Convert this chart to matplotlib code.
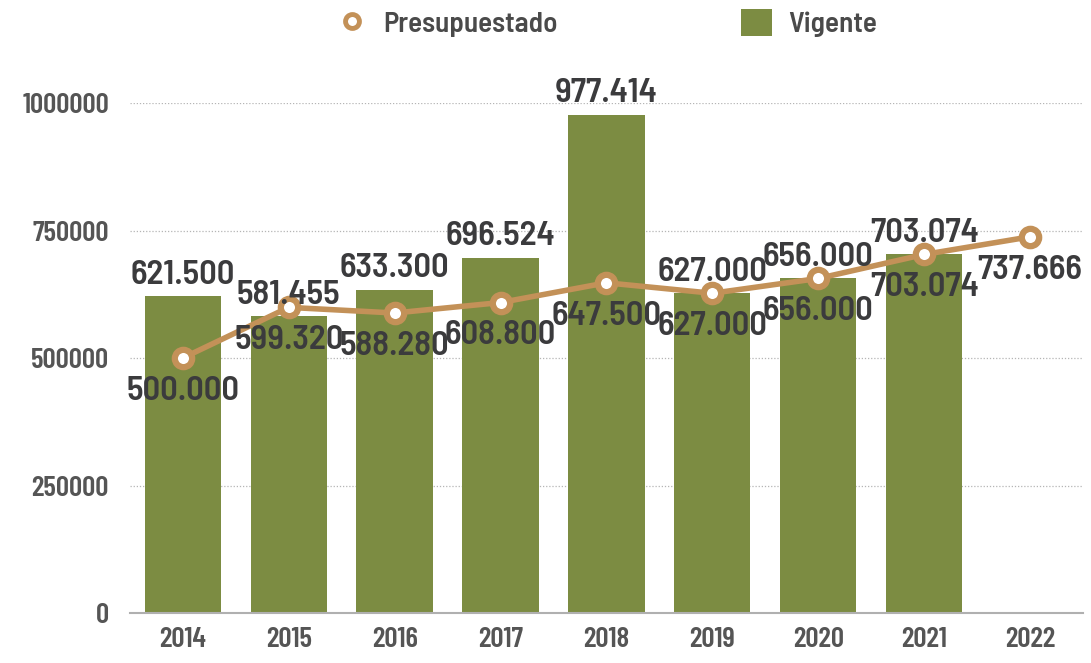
import matplotlib
matplotlib.use("Agg")
import matplotlib.pyplot as plt
from matplotlib.lines import Line2D
from matplotlib.patches import Patch
import numpy as np

years = ["2014", "2015", "2016", "2017", "2018", "2019", "2020", "2021", "2022"]
vigente = [621500, 581455, 633300, 696524, 977414, 627000, 656000, 703074]
presupuestado = [500000, 599320, 588280, 608800, 647500, 627000, 656000, 703074, 737666]
yticks = [0, 250000, 500000, 750000, 1000000]

BAR = "#7c8c42"
LINE = "#c39158"
TXT = "#3b3b3d"
TICK = "#555555"
FONT = ["Barlow Semi Condensed", "DejaVu Sans"]
TICKFONT = ["Barlow Condensed", "DejaVu Sans"]

def fmt(v):
    return f"{v:,}".replace(",", ".")

fig = plt.figure(figsize=(10.91, 6.63), dpi=100)
ax = fig.add_axes([0.119, 0.0754, 0.8737, 0.7692])

x = np.arange(len(years))
bx = x[:len(vigente)]
ax.bar(bx, vigente, width=0.72, color=BAR, zorder=2)
ax.plot(x, presupuestado, color=LINE, lw=4, marker="o", ms=12.5,
        mfc="white", mec=LINE, mew=4.5, zorder=3)

for xi, v in zip(bx, vigente):
    ax.annotate(fmt(v), (xi, v), xytext=(0, 4), textcoords="offset points",
                ha="center", va="bottom", fontsize=25, fontweight=600,
                color=TXT, family=FONT, zorder=5, annotation_clip=False)
for xi, v in zip(x, presupuestado):
    ax.annotate(fmt(v), (xi, v), xytext=(0, -24), textcoords="offset points",
                ha="center", va="center", fontsize=25, fontweight=600,
                color=TXT, family=FONT, zorder=5, annotation_clip=False)

ax.set_xlim(-0.5, len(years) - 0.5)
ax.set_ylim(0, 1000000)
ax.set_xticks(x)
ax.set_xticklabels(years)
ax.set_yticks(yticks)
ax.set_yticklabels([str(t) for t in yticks])
for lab in ax.get_xticklabels() + ax.get_yticklabels():
    lab.set_family(TICKFONT)
    lab.set_fontsize(21)
    lab.set_fontweight(600)
    lab.set_color(TICK)
ax.tick_params(axis="both", length=0)
ax.tick_params(axis="x", pad=10)
ax.tick_params(axis="y", pad=15)

ax.grid(axis="y", linestyle=(0, (1, 1.5)), color="#b5b5b5", lw=0.9, zorder=0)
ax.set_axisbelow(True)
for s in ["top", "right", "left"]:
    ax.spines[s].set_visible(False)
ax.spines["bottom"].set_color("#b0b0b0")
ax.spines["bottom"].set_linewidth(1.5)
ax.spines["bottom"].set_zorder(4)

handles = [
    Line2D([0], [0], color=LINE, lw=0, marker="o", ms=10, mfc="white",
           mec=LINE, mew=3.5, label="Presupuestado"),
    Patch(facecolor=BAR, label="Vigente"),
]
leg = fig.legend(handles=handles, loc="center", bbox_to_anchor=(0.556, 0.965),
                 ncol=2, frameon=False, columnspacing=6.3, handletextpad=0.55,
                 handlelength=1.05, handleheight=1.05,
                 prop={"family": FONT, "size": 21, "weight": 600})
for t in leg.get_texts():
    t.set_color("#4a4a4a")

fig.savefig("out.png", dpi=100)
